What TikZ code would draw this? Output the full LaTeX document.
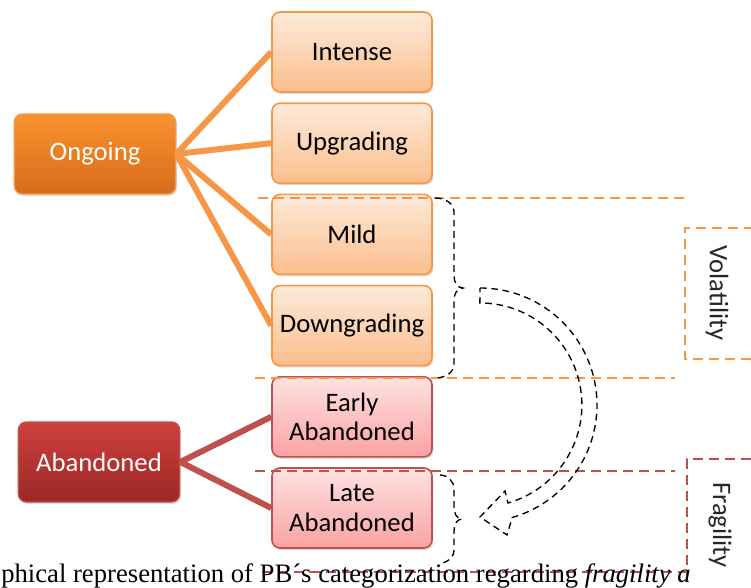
\documentclass[tikz,border=0pt]{standalone}
\usepackage{fontspec}
\setmainfont{Carlito}
\newfontfamily\capfont{Liberation Serif}
\usetikzlibrary{shapes, arrows, arrows.meta, positioning, shadows}
\definecolor{ongoingline}{RGB}{247,150,70}
\definecolor{abandonline}{RGB}{192,80,77}
\tikzstyle{ongoingbox} = [rectangle, rounded corners=6pt, draw=ongoingline, line width=1pt,
    top color={rgb,255:red,250;green,146;blue,48}, bottom color={rgb,255:red,214;green,108;blue,26},
    text=white, minimum width=121pt, minimum height=60pt, font=\fontsize{20}{24}\selectfont,
    drop shadow={shadow xshift=1pt, shadow yshift=-1.5pt, opacity=0.25}]
\tikzstyle{abandonbox} = [rectangle, rounded corners=6pt, draw=abandonline, line width=1pt,
    top color={rgb,255:red,206;green,64;blue,61}, bottom color={rgb,255:red,155;green,40;blue,38},
    text=white, minimum width=121pt, minimum height=60pt, font=\fontsize{20}{24}\selectfont,
    drop shadow={shadow xshift=1pt, shadow yshift=-1.5pt, opacity=0.25}]
\tikzstyle{stagebox} = [rectangle, rounded corners=6pt, draw=ongoingline, line width=1.2pt,
    top color={rgb,255:red,253;green,234;blue,218}, bottom color={rgb,255:red,251;green,190;blue,140},
    text width=110pt, text centered, minimum width=120pt, minimum height=60pt,
    font=\fontsize{20}{22}\selectfont,
    drop shadow={shadow xshift=1pt, shadow yshift=-1.5pt, opacity=0.25}]
\tikzstyle{lostbox} = [stagebox, draw=abandonline,
    top color={rgb,255:red,255;green,226;blue,226}, bottom color={rgb,255:red,250;green,162;blue,162}]
\tikzstyle{branch} = [draw, ongoingline, line width=4.5pt]
\tikzstyle{lostbranch} = [draw, abandonline, line width=4.5pt]
\tikzstyle{band} = [draw, ongoingline, line width=1.5pt, dash pattern=on 7.5pt off 4.5pt]
\tikzstyle{lostband} = [band, draw=abandonline]
\tikzstyle{guide} = [draw, black, line width=1pt, dash pattern=on 5pt off 3.5pt]
\tikzstyle{sidelabel} = [rotate=-90, font=\fontsize{20}{24}\selectfont, text=black!85]

\begin{document}
\begin{tikzpicture}[x=0.75pt, y=-0.75pt, node distance=68.4pt]
    \clip (0,0) rectangle (751,587);
    \useasboundingbox (0,0) rectangle (751,587);
    % Nodes
    \node [ongoingbox] (ongoing) at (95,154) {Ongoing};
    \node [abandonbox] (abandoned) at (99,462) {Abandoned};
    \node [stagebox] (intense) at (352,52) {Intense};
    \node [stagebox, below of=intense] (upgrading) {Upgrading};
    \node [stagebox, below of=upgrading] (mild) {Mild};
    \node [stagebox, below of=mild] (downgrading) {Downgrading};
    \node [lostbox, below of=downgrading] (early) {Early\\Abandoned};
    \node [lostbox, below of=early] (late) {Late\\Abandoned};
    % Edges
    \path [branch] (ongoing.east) -- (intense.west);
    \path [branch] (ongoing.east) -- (upgrading.west);
    \path [branch] (ongoing.east) -- (mild.west);
    \path [branch] (ongoing.east) -- (downgrading.west);
    \path [lostbranch] (abandoned.east) -- (early.west);
    \path [lostbranch] (abandoned.east) -- (late.west);
    % Bands
    \path [band] (258,198) -- (685,198);
    \path [band] (255,378) -- (675,378);
    \path [band] (770,228) -- (685,228) -- (685,359) -- (770,359);
    \node [sidelabel] (volatility) at (717,293) {Volatility};
    \path [lostband] (255,471) -- (675,471);
    \path [lostband] (262,572) -- (687,572) -- (687,459) -- (770,459);
    \path [lostband] (687,572) -- (687,600);
    \node [sidelabel] (fragility) at (720,525) {Fragility};
    % Braces and transfer arrow
    \path [guide] (435,198) to[out=0, in=90] (454,212) -- (454,276)
        to[out=-90, in=180] (463,288) to[out=180, in=90] (454,300) -- (454,364)
        to[out=-90, in=0] (435,378);
    \path [guide] (440,475) to[out=0, in=90] (454,489) -- (454,507)
        to[out=-90, in=180] (462,519) to[out=180, in=90] (454,531) -- (454,550)
        to[out=-90, in=0] (440,563);
    \path [guide] (480,288) arc[start angle=-90, end angle=74, radius=117]
        -- (507,535) -- (480,517) -- (505,491) -- (508,503)
        arc[start angle=74, end angle=-90, radius=102] -- cycle;
    % Caption
    \node [anchor=base west, inner sep=0pt, font=\capfont\fontsize{20}{24}\selectfont] (caption)
        at (1,582) {phical representation of PB´s categorization regarding \textit{fragility a}};
\end{tikzpicture}
\end{document}
